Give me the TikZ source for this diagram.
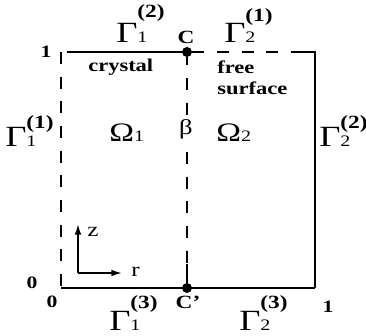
\documentclass[tikz,border=0pt]{standalone}
\usepackage{fontspec}
\setmainfont[FakeStretch=1.25]{Liberation Serif}
\usetikzlibrary{arrows.meta}
\newcommand\Gm[3]{\fontsize{22}{22}\selectfont Γ\rlap{\raisebox{#3}{\fontsize{14}{14}\selectfont\bfseries(#2)}}{\fontsize{12}{12}\selectfont #1}}
\newcommand\Om[1]{{\fontsize{20}{20}\selectfont Ω}{\fontsize{12}{12}\selectfont #1}}
\begin{document}
\begin{tikzpicture}[x=0.75pt,y=-0.75pt,
  bnd/.style={line width=1.7pt},
  dbnd/.style={line width=1.7pt,dash pattern=on 9pt off 9.5pt},
  lbl/.style={inner sep=0pt,font=\fontsize{13}{13}\selectfont\bfseries},
  gm/.style={inner sep=0pt,anchor=base west},
  dot/.style={circle,fill=black,inner sep=0pt,minimum size=7.5pt}]
\useasboundingbox (0,0) rectangle (366,335);
% corners
\coordinate (TL) at (61,52);
\coordinate (TR) at (315,52);
\coordinate (BL) at (61,288);
\coordinate (BR) at (315,288);
\coordinate (TLs) at (67,52);
\coordinate (TRd) at (301,52);
\coordinate (Cs) at (187,264);
\node[dot] (C) at (187,52) {};
\node[dot] (Cp) at (187,288) {};
% boundaries
\draw[bnd] (TLs) -- (C);
\draw[dbnd] (C) -- (TRd);
\draw[bnd] (TRd) -- (TR) -- (BR);
\draw[bnd] (BL) -- (BR);
\draw[dbnd,dash phase=0pt] (TL) -- (BL);
\draw[dbnd,dash phase=3pt] (C) -- (Cs);
\draw[bnd] (Cs) -- (Cp);
% axes
\coordinate (O) at (78,273);
\coordinate (Z) at (78,224);
\coordinate (R) at (122,273);
\draw[line width=1.2pt,-{Latex[length=8pt,width=5pt]}] (O) -- (Z);
\draw[line width=1.2pt,-{Latex[length=8pt,width=5pt]}] (O) -- (R);
\node[gm,font=\fontsize{15}{15}\selectfont] (zl) at (87,236) {z};
\node[gm,font=\fontsize{15}{15}\selectfont] (rl) at (131,276) {r};
% labels
\node[lbl,anchor=base] (one1) at (46,57) {1};
\node[lbl,anchor=base] (zero1) at (32,288) {0};
\node[lbl,anchor=base] (zero2) at (52,307) {0};
\node[lbl,anchor=base] (one2) at (328,312) {1};
\node[lbl,anchor=base,font=\fontsize{14}{14}\selectfont\bfseries] (Cl) at (186,43) {C};
\node[lbl,anchor=base,font=\fontsize{14}{14}\selectfont\bfseries] (Cpl) at (188,308) {C'};
\node[gm,font=\fontsize{13.5}{13.5}\selectfont\bfseries] (cr) at (88,71) {crystal};
\node[gm,font=\fontsize{13.5}{13.5}\selectfont\bfseries] (fr) at (217,73) {free};
\node[gm,font=\fontsize{13.5}{13.5}\selectfont\bfseries] (sf) at (217,94) {surface};
\node[gm] (G12) at (116,42) {\Gm{1}{2}{18pt}};
\node[gm] (G21) at (224,42) {\Gm{2}{1}{15pt}};
\node[gm] (G11) at (5,146) {\Gm{1}{1}{13.5pt}};
\node[gm] (G22) at (319,146) {\Gm{2}{2}{13.5pt}};
\node[gm] (G13) at (109,330) {\Gm{1}{3}{16pt}};
\node[gm] (G23) at (239,330) {\Gm{2}{3}{16pt}};
\node[gm] (O1) at (109,141) {\Om{1}};
\node[gm] (O2) at (216,141) {\Om{2}};
\node[inner sep=1pt,fill=white,font=\fontsize{16}{16}\selectfont] (be) at (186,129) {β};
\end{tikzpicture}
\end{document}
